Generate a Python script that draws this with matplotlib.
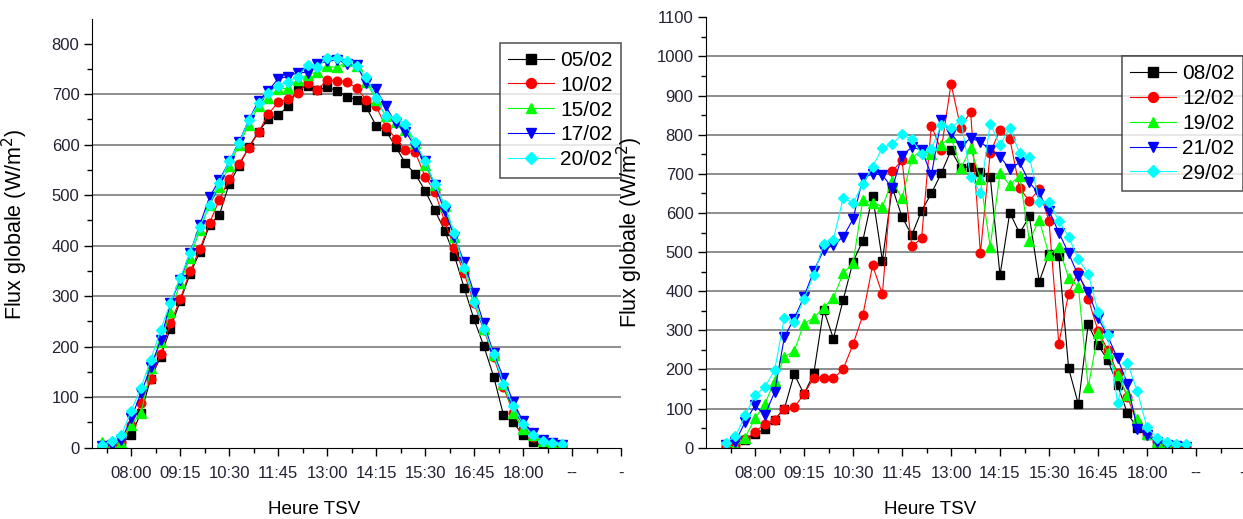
import numpy as np
import matplotlib
matplotlib.use("Agg")
import matplotlib.pyplot as plt

plt.rcParams['font.family'] = ['Liberation Sans', 'DejaVu Sans']

# times: every 15 min from 07:15 to 19:00 (decimal hours)
hours = 7.25 + 0.25 * np.arange(48)

tick_pos = [8.0, 9.25, 10.5, 11.75, 13.0, 14.25, 15.5, 16.75, 18.0, 19.25, 20.5]
tick_labels = ['08:00', '09:15', '10:30', '11:45', '13:00', '14:15', '15:30',
               '16:45', '18:00', '--', '-']

# left panel
labels_left = ['05/02', '10/02', '15/02', '17/02', '20/02']
d0502 = [0, 2, 8, 25, 69, 137, 180, 236, 290, 344, 387, 441, 461, 522, 558, 595,
         626, 651, 658, 676, 709, 717, 708, 714, 707, 695, 689, 674, 638, 628, 596, 563,
         542, 509, 470, 430, 380, 316, 254, 201, 141, 65, 50, 25, 11, 3, 2, 1]
d1002 = [2, 5, 12, 45, 88, 137, 185, 246, 294, 349, 393, 445, 491, 532, 562, 593,
         625, 661, 684, 690, 703, 722, 709, 728, 727, 725, 712, 689, 676, 636, 612, 589,
         585, 537, 507, 448, 395, 345, 286, 233, 180, 121, 68, 38, 22, 12, 7, 4]
d1502 = [12, 5, 10, 45, 68, 157, 210, 268, 326, 376, 431, 481, 517, 557, 600, 639,
         677, 692, 710, 712, 729, 738, 745, 755, 753, 765, 755, 725, 689, 656, 646, 629,
         603, 560, 520, 478, 418, 359, 296, 236, 184, 127, 68, 38, 25, 14, 7, 5]
d1702 = [4, 6, 15, 58, 108, 160, 213, 286, 332, 385, 441, 497, 530, 567, 605, 649,
         687, 707, 731, 735, 743, 743, 760, 765, 768, 760, 758, 722, 710, 676, 643, 626,
         596, 567, 520, 468, 418, 367, 306, 246, 187, 139, 91, 52, 30, 15, 9, 5]
d2002 = [5, 14, 25, 73, 119, 174, 233, 287, 336, 385, 438, 481, 525, 568, 603, 649,
         682, 703, 717, 725, 735, 758, 753, 772, 772, 765, 755, 735, 692, 656, 653, 641,
         606, 567, 522, 481, 425, 355, 289, 236, 185, 127, 83, 46, 26, 14, 9, 7]

# right panel
labels_right = ['08/02', '12/02', '19/02', '21/02', '29/02']
d0802 = [7, 7, 20, 34, 48, 72, 100, 188, 137, 190, 353, 279, 378, 475, 529, 644,
         478, 665, 590, 543, 606, 650, 701, 760, 716, 718, 705, 693, 441, 601, 548, 591,
         424, 495, 490, 203, 111, 315, 262, 224, 160, 88, 51, 32, 15, 8, 5, 3]
d1202 = [3, 7, 21, 41, 60, 72, 99, 103, 137, 179, 177, 177, 201, 264, 338, 466,
         392, 706, 735, 515, 535, 823, 760, 930, 817, 859, 497, 754, 812, 790, 663, 631,
         660, 579, 266, 394, 450, 381, 299, 249, 190, 130, 64, 37, 18, 8, 4, 2]
d1902 = [3, 3, 26, 75, 111, 171, 232, 247, 317, 332, 358, 383, 446, 471, 633, 626,
         616, 682, 637, 740, 760, 751, 774, 795, 714, 765, 686, 514, 701, 672, 695, 529,
         582, 493, 514, 433, 411, 155, 292, 242, 185, 134, 74, 34, 15, 6, 3, 2]
d2102 = [6, 15, 66, 108, 83, 142, 283, 330, 386, 452, 505, 518, 539, 584, 689, 700,
         697, 663, 746, 768, 761, 697, 838, 804, 771, 791, 782, 761, 744, 712, 729, 678,
         648, 606, 550, 497, 439, 398, 332, 285, 228, 164, 49, 32, 15, 8, 5, 3]
d2902 = [12, 29, 83, 134, 155, 198, 332, 322, 381, 441, 520, 532, 639, 625, 674, 718,
         767, 776, 801, 788, 751, 763, 825, 817, 838, 693, 652, 828, 774, 817, 753, 744,
         629, 629, 580, 539, 481, 445, 347, 288, 114, 217, 145, 52, 26, 15, 10, 10]

colors = ['#000000', '#ff0000', '#00ff00', '#0000ff', '#00ffff']
markers = ['s', 'o', '^', 'v', 'D']
msizes = [5.8, 6.2, 6.8, 6.8, 5.4]
text_col = '#222233'


def draw_panel(ax, data, labels, ymax, xmin, leg_anchor):
    for y, lab, c, m, ms in zip(data, labels, colors, markers, msizes):
        ax.plot(hours, y, color=c, lw=0.8, marker=m, ms=ms, mfc=c, mec=c, label=lab)
    ax.set_xlim(xmin, 20.5)
    ax.set_ylim(0, ymax)
    for g in range(100, int(ymax), 100):
        if g < ymax - 60:
            ax.axhline(g, color='#7a7a7a', lw=1.2, zorder=0)
    ax.set_xticks(tick_pos)
    ax.set_xticklabels(tick_labels)
    ax.set_xticks(np.arange(7.375, 20.5, 1.25), minor=True)
    ax.set_yticks(np.arange(0, ymax + 1, 100))
    ax.set_yticks(np.arange(50, ymax, 100), minor=True)
    for s in ['top', 'right']:
        ax.spines[s].set_visible(False)
    ax.tick_params(which='major', direction='out', length=6, width=1,
                   labelsize=12, labelcolor=text_col, pad=3)
    ax.tick_params(which='minor', direction='out', length=3.5, width=1)
    ax.tick_params(axis='x', pad=7)
    ax.set_xlabel('Heure TSV', fontsize=13.5)
    ax.set_ylabel('Flux globale (W/m$^2$)', fontsize=15.5)
    leg = ax.legend(loc='upper right', bbox_to_anchor=leg_anchor, fontsize=15,
                    frameon=True, fancybox=False, borderaxespad=0, labelspacing=0.28,
                    borderpad=0.4, handlelength=2.2, handletextpad=0.3, markerscale=1.15)
    leg.get_frame().set_edgecolor('#333333')
    leg.get_frame().set_linewidth(1.2)


fig = plt.figure(figsize=(12.43, 5.19), dpi=100)
axL = fig.add_axes([92 / 1243, 71.3 / 519, 529 / 1243, 429.2 / 519])
axR = fig.add_axes([706 / 1243, 71.3 / 519, 539 / 1243, 430.4 / 519])

draw_panel(axL, [d0502, d1002, d1502, d1702, d2002], labels_left, 850, 7.0, (1.0, 0.944))
draw_panel(axR, [d0802, d1202, d1902, d2102, d2902], labels_right, 1100, 6.75, (0.996, 0.910))

# last label sits on the figure edge, keep it inside
axR.get_xticklabels()[-1].set_horizontalalignment('right')

axL.yaxis.set_label_coords(-0.118, 0.52)
axL.xaxis.set_label_coords(0.42, -0.125)
axR.yaxis.set_label_coords(-0.113, 0.5)
axR.xaxis.set_label_coords(0.416, -0.124)

fig.savefig('out.png', dpi=100)
